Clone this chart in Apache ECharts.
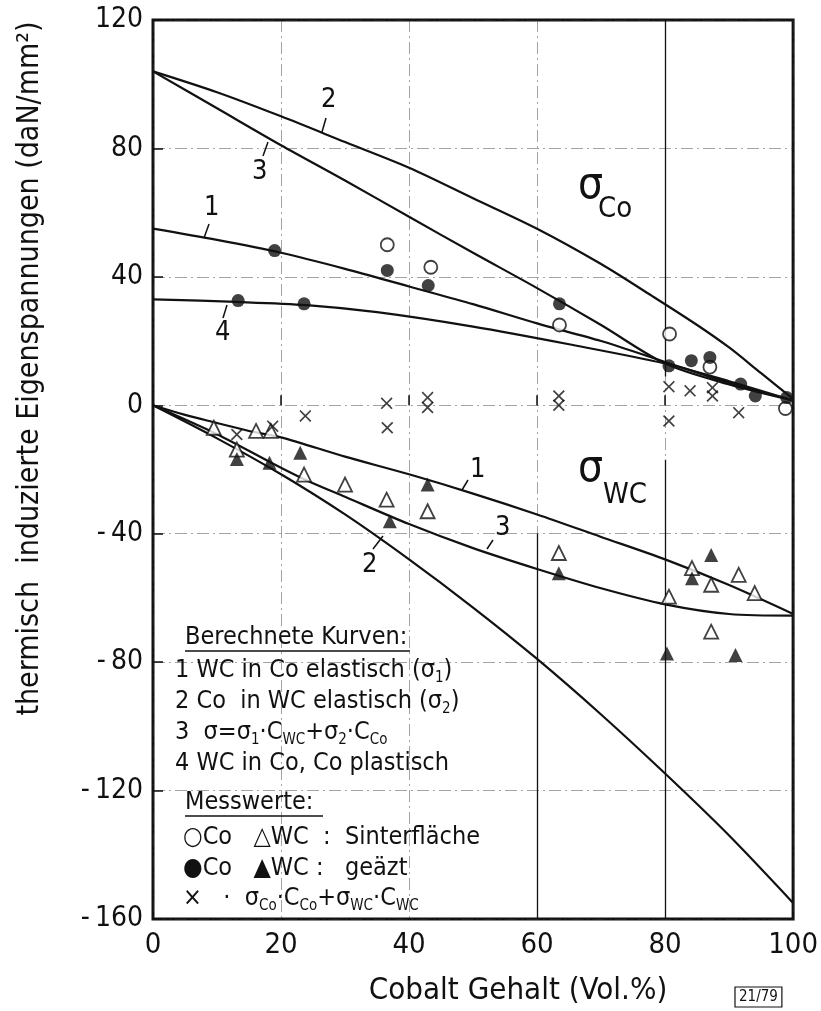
<!DOCTYPE html>
<html>
<head>
<meta charset="utf-8">
<script src="https://cdn.jsdelivr.net/npm/echarts@6/dist/echarts.min.js"></script>
<style>
    html, body { margin: 0; padding: 0; background: #fff; }
    #chart { width: 821px; height: 1011px; }
</style>
</head>
<body>
<div id="chart"></div>
<script>
    var FONT = '"DejaVu Sans Condensed", "Liberation Sans Narrow", "DejaVu Sans", sans-serif';

    // x ticks / y ticks
    var xTicks = [0, 20, 40, 60, 80, 100];
    var yTicks = [-160, -120, -80, -40, 0, 40, 80, 120];

    // berechnete Kurven, sigma Co (oben)
    var co1 = [[0, 55], [10, 51.5], [20, 47.5], [30, 42.5], [40, 37], [50, 31.5], [60, 25.5], [70, 20], [80, 13.5], [90, 7], [100, 1.5]];
    var co2 = [[0, 104], [10, 97.5], [20, 90], [30, 82], [40, 74], [50, 64.5], [60, 55], [70, 44], [78, 34], [85, 25], [90, 18], [95, 10], [100, 2]];
    var co3 = [[0, 104], [10, 92.5], [20, 81], [30, 70], [40, 58.7], [50, 47.5], [60, 36.5], [70, 25], [80, 13], [90, 6.5], [100, 1.5]];
    var co4 = [[0, 33], [13, 32.2], [24, 31.2], [35, 29], [50, 24.5], [65, 19], [80, 13], [90, 7.5], [100, 1.5]];

    // berechnete Kurven, sigma WC (unten)
    var wc1 = [[0, 0], [5, -3], [10, -5.5], [15, -8], [20, -10], [30, -16], [40, -21.5], [50, -27.5], [60, -34], [70, -41], [80, -48], [90, -56], [100, -65]];
    var wc2 = [[0, 0], [10, -10.3], [20, -21.5], [30, -34], [40, -48], [50, -63], [60, -79], [70, -96.3], [80, -114.7], [90, -134], [100, -155]];
    var wc3 = [[0, 0], [10, -9], [18.4, -17.8], [23.6, -23], [30, -28.5], [40, -37], [50, -44.5], [60, -51], [70, -57], [80, -62], [90, -65], [100, -65.5]];

    // Messwerte
    var coSinter = [[36.6, 50], [43.4, 43], [63.5, 25], [80.7, 22.2], [87, 11.9], [98.8, -1]];
    var coGeaetzt = [[19, 48.2], [36.6, 42], [43, 37.3], [13.3, 32.6], [23.6, 31.6], [63.5, 31.6], [80.6, 12.3], [84.1, 13.9], [87, 14.9], [91.8, 6.6], [94.1, 2.9], [99, 2.4]];
    var wcSinter = [[9.5, -7], [13.1, -13.8], [16.1, -8], [18.4, -8], [23.6, -21.6], [30, -24.7], [36.5, -29.4], [42.9, -33], [63.4, -46], [84.2, -50.7], [80.6, -59.6], [87.2, -55.9], [91.5, -52.8], [94, -58.5], [87.2, -70.5]];
    var wcGeaetzt = [[13.1, -16.7], [18.2, -17.9], [23, -14.8], [37, -36.1], [42.9, -24.7], [63.4, -52.3], [84.2, -53.9], [87.2, -46.6], [80.3, -77.3], [91, -77.8]];
    var mixed = [[13.1, -9.1], [18.7, -6.5], [23.8, -3.3], [36.5, 0.6], [36.6, -7], [42.9, 2.4], [42.9, -0.7], [63.4, 2.9], [63.4, 0], [80.6, 5.8], [80.6, -4.9], [83.9, 4.5], [87.4, 5.5], [87.4, 2.9], [91.5, -2.3]];

    var crossPath = 'path://M0,1L1,0L5,4L9,0L10,1L6,5L10,9L9,10L5,6L1,10L0,9L4,5Z';

    function curve(data) {
        return {
            type: 'line', data: data, smooth: 0.3, showSymbol: false, silent: true, z: 2,
            lineStyle: {color: '#111', width: 2.2}
        };
    }

    function marks(data, symbol, size, fill) {
        return {
            type: 'scatter', data: data, symbol: symbol, symbolSize: size, z: 5,
            itemStyle: {color: fill, borderColor: '#111', borderWidth: fill === '#fff' ? 1.8 : 0}
        };
    }

    var chart = echarts.init(document.getElementById('chart'));

    var sub = {fontSize: 15, fontFamily: FONT, verticalAlign: 'bottom', fill: '#111'};
    function txt(x, y, text, size, extra) {
        var st = {text: text, fontSize: size, fontFamily: FONT, fill: '#111', textVerticalAlign: 'middle', lineHeight: 32,
            rich: {s: sub}};
        if (extra) for (var k in extra) st[k] = extra[k];
        return {type: 'text', x: x, y: y, z: 10, style: st};
    }
    function seg(x1, y1, x2, y2) {
        return {type: 'line', z: 10, shape: {x1: x1, y1: y1, x2: x2, y2: y2}, style: {stroke: '#111', lineWidth: 1.5}};
    }

    var grid = {color: '#333', width: 1, type: [12, 4, 2, 4], opacity: 0.45};

    var option = {
        animation: false,
        backgroundColor: '#fff',
        grid: {left: 153, right: 16, top: 20, bottom: 87, show: true, borderColor: '#111', borderWidth: 3},
        xAxis: {
            type: 'value', min: 0, max: 100, interval: 20,
            name: 'Cobalt Gehalt (Vol.%)', nameLocation: 'middle', nameGap: 56,
            nameTextStyle: {fontSize: 31, fontFamily: FONT, color: '#111', padding: [0, 0, 0, 90]},
            axisLine: {show: false},
            axisTick: {inside: true, length: 10, lineStyle: {color: '#111', width: 1.5}},
            axisLabel: {fontSize: 29, fontFamily: FONT, color: '#111', margin: 12},
            splitLine: {show: true, lineStyle: grid}
        },
        yAxis: {
            type: 'value', min: -160, max: 120, interval: 40,
            name: 'thermisch  induzierte Eigenspannungen (daN/mm²)', nameLocation: 'middle', nameGap: 108, nameRotate: 90,
            nameTextStyle: {fontSize: 30, fontFamily: FONT, color: '#111', padding: [0, 0, 0, 202]},
            axisLine: {show: false},
            axisTick: {inside: true, length: 10, lineStyle: {color: '#111', width: 1.5}},
            axisLabel: {
                fontSize: 28, fontFamily: FONT, color: '#111', margin: 10,
                formatter: function (v) { return v < 0 ? '-\u2009' + Math.abs(v) : String(v); }
            },
            splitLine: {show: true, lineStyle: grid}
        },
        series: [
            curve(co1), curve(co2), curve(co3), curve(co4),
            curve(wc1), curve(wc2), curve(wc3),
            marks(coSinter, 'circle', 13, '#fff'),
            marks(coGeaetzt, 'circle', 13, '#111'),
            marks(wcSinter, 'triangle', 14, '#fff'),
            marks(wcGeaetzt, 'triangle', 14, '#111'),
            marks(mixed, crossPath, 12, '#111'),
            {
                // durchgezogene Hilfslinien bei 60 und 80 Vol.%
                type: 'line', data: [], silent: true,
                markLine: {
                    symbol: 'none', silent: true, label: {show: false},
                    lineStyle: {color: '#111', width: 1.3, type: 'solid'},
                    data: [
                        [{coord: [80, 120]}, {coord: [80, 9]}],
                        [{coord: [80, -17]}, {coord: [80, -160]}],
                        [{coord: [60, -40]}, {coord: [60, -160]}]
                    ]
                }
            }
        ],
        graphic: [
            // Kurvenbeschriftungen oben
            txt(321, 100, '2', 27), seg(326, 118, 322, 132),
            txt(252, 172, '3', 27), seg(263, 156, 268, 142),
            txt(204, 208, '1', 27), seg(209, 224, 204, 238),
            txt(215, 333, '4', 27), seg(223, 318, 227, 305),
            txt(578, 187, 'σ', 44), txt(598, 209, 'Co', 29),
            // Kurvenbeschriftungen unten
            txt(470, 470, '1', 27), seg(468, 480, 462, 490),
            txt(362, 565, '2', 27), seg(373, 549, 383, 536),
            txt(495, 528, '3', 27), seg(493, 540, 487, 549),
            txt(578, 470, 'σ', 44), txt(603, 495, 'WC', 29),
            // Legende
            txt(185, 637, 'Berechnete Kurven:', 25), seg(185, 651, 410, 651),
            txt(175, 670, '1 WC in Co elastisch (σ{s|1})', 25),
            txt(175, 701, '2 Co  in WC elastisch (σ{s|2})', 25),
            txt(175, 732, '3  σ=σ{s|1}·C{s|WC}+σ{s|2}·C{s|Co}', 25),
            txt(175, 763, '4 WC in Co, Co plastisch', 25),
            txt(185, 802, 'Messwerte:', 25), seg(185, 816, 323, 816),
            txt(183, 837, '○Co   △WC  :  Sinterfläche', 25),
            txt(183, 868, '●Co   ▲WC :   geäzt', 25),
            txt(183, 898, '×   ·  σ{s|Co}·C{s|Co}+σ{s|WC}·C{s|WC}', 25),
            // Bildnummer
            txt(735, 997, '21/79', 15, {borderColor: '#111', borderWidth: 1.2, padding: [2, 4, 1, 4], lineHeight: 17})
        ]
    };

    chart.setOption(option);
</script>
</body>
</html>
